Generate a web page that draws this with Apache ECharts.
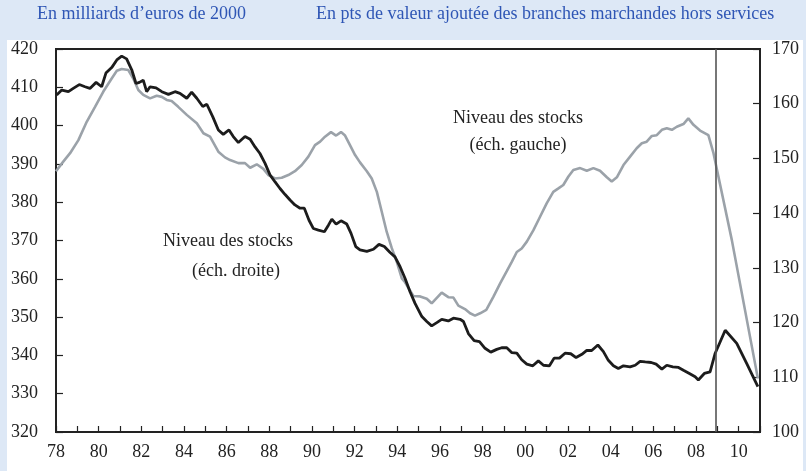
<!DOCTYPE html>
<html>
<head>
<meta charset="utf-8">
<script src="https://cdn.jsdelivr.net/npm/echarts@6/dist/echarts.min.js"></script>
<style>
  body { margin: 0; background: #dde8f6; }
  #panel { position: absolute; left: 7px; top: 40px; width: 796px; height: 431px; background: #fff; }
  #chart { position: absolute; left: 0; top: 0; width: 806px; height: 471px; }
</style>
</head>
<body>
<div id="panel"></div>
<div id="chart"></div>
<script>
// Niveau des stocks, éch. gauche (milliards d'euros de 2000)
var gaucheYears = [1978.00,1978.34,1978.66,1979.05,1979.44,1979.83,1980.22,1980.61,1980.85,1981.08,
  1981.39,1981.62,1981.86,1982.09,1982.41,1982.72,1982.96,1983.19,1983.42,1983.73,
  1984.13,1984.60,1984.91,1985.22,1985.61,1985.92,1986.16,1986.55,1986.86,1987.10,
  1987.41,1987.72,1987.95,1988.27,1988.58,1988.89,1989.20,1989.52,1989.83,1990.14,
  1990.38,1990.61,1990.89,1991.13,1991.36,1991.55,1991.78,1992.02,1992.25,1992.57,
  1992.80,1993.04,1993.27,1993.50,1993.74,1993.97,1994.21,1994.36,1994.75,1995.07,
  1995.38,1995.61,1996.08,1996.39,1996.63,1996.86,1997.17,1997.41,1997.64,1997.88,
  1998.17,1998.50,1998.82,1999.13,1999.37,1999.60,1999.83,2000.07,2000.38,2000.69,
  2001.00,2001.31,2001.55,2001.78,2002.02,2002.25,2002.57,2002.88,2003.19,2003.50,
  2003.82,2004.05,2004.29,2004.60,2004.91,2005.22,2005.46,2005.69,2005.93,2006.16,
  2006.40,2006.63,2006.87,2007.10,2007.41,2007.64,2007.88,2008.19,2008.58,2008.82,
  2009.05,2009.68,2010.90];
var gaucheValues = [388.1,390.6,392.8,396.2,401.0,404.9,408.9,412.3,414.3,414.8,
  414.5,412.3,409.3,408.0,407.1,407.8,407.5,406.7,406.4,404.9,
  402.8,400.6,398.0,397.1,393.2,391.7,391.0,390.2,390.2,389.0,
  389.9,388.7,387.1,386.2,386.4,387.1,388.1,389.7,391.9,394.9,
  395.8,397.1,398.3,397.4,398.3,397.4,394.9,392.3,390.4,388.1,
  386.2,382.7,377.5,372.3,368.0,364.5,360.1,359.1,355.5,355.4,
  354.8,353.6,356.4,355.2,355.1,353.0,352.1,351.0,350.4,351.0,
  351.9,355.3,358.8,362.0,364.5,367.0,367.9,369.7,372.7,376.2,
  379.7,382.7,383.6,384.5,386.7,388.4,388.9,388.2,388.9,388.2,
  386.5,385.4,386.5,389.7,391.9,394.1,395.4,395.8,397.3,397.5,
  398.9,399.3,398.9,399.7,400.4,401.9,400.2,398.7,397.5,392.8,
  386.7,370.1,334.0];

// Niveau des stocks, éch. droite (pts de valeur ajoutée)
var droiteYears = [1978.03,1978.27,1978.58,1978.81,1979.09,1979.36,1979.59,1979.88,1980.14,1980.34,
  1980.61,1980.85,1981.08,1981.31,1981.55,1981.75,1981.91,1982.09,1982.25,1982.41,
  1982.69,1982.96,1983.27,1983.58,1983.81,1984.13,1984.36,1984.60,1984.88,1985.07,
  1985.35,1985.61,1985.84,1986.11,1986.31,1986.55,1986.86,1987.10,1987.33,1987.56,
  1987.80,1988.03,1988.27,1988.50,1988.74,1988.97,1989.20,1989.44,1989.64,1989.86,
  1990.06,1990.30,1990.58,1990.77,1990.93,1991.13,1991.36,1991.63,1991.83,1992.05,
  1992.25,1992.57,1992.88,1993.14,1993.39,1993.66,1993.89,1994.13,1994.36,1994.60,
  1994.83,1995.15,1995.38,1995.61,1995.85,1996.08,1996.39,1996.63,1996.94,1997.10,
  1997.33,1997.60,1997.85,1998.11,1998.38,1998.66,1998.89,1999.13,1999.37,1999.60,
  1999.83,2000.07,2000.35,2000.61,2000.85,2001.13,2001.35,2001.60,2001.86,2002.13,
  2002.38,2002.65,2002.88,2003.11,2003.40,2003.66,2003.89,2004.13,2004.36,2004.60,
  2004.91,2005.15,2005.38,2005.62,2005.90,2006.13,2006.40,2006.63,2006.91,2007.18,
  2007.41,2007.69,2007.96,2008.11,2008.39,2008.66,2008.90,2009.37,2009.91,2010.38,
  2010.90];
var droiteValues = [161.6,162.5,162.2,162.8,163.5,163.1,162.8,163.9,163.1,165.6,
  166.6,168.0,168.7,168.2,166.2,163.7,163.9,164.3,162.2,163.1,
  162.9,162.2,161.7,162.2,161.9,161.0,162.1,161.0,159.5,159.9,
  157.6,155.2,154.4,155.2,154.0,152.9,154.0,153.5,152.1,150.9,
  149.1,147.0,145.7,144.5,143.4,142.4,141.5,140.9,140.9,138.7,
  137.2,136.9,136.6,137.8,138.9,138.0,138.6,138.0,136.3,133.9,
  133.3,133.0,133.4,134.3,133.9,132.8,132.0,130.2,128.1,125.6,
  123.5,121.1,120.2,119.4,120.0,120.6,120.3,120.8,120.6,120.2,
  118.0,116.7,116.5,115.3,114.6,115.1,115.4,115.4,114.5,114.4,
  113.2,112.4,112.1,113.0,112.2,112.1,113.5,113.5,114.4,114.3,
  113.6,114.2,114.9,114.9,115.9,114.7,113.1,112.1,111.6,112.1,
  111.9,112.2,112.9,112.8,112.7,112.4,111.5,112.2,111.9,111.8,
  111.3,110.7,110.1,109.5,110.7,111.0,114.4,118.6,116.2,112.5,
  108.3];

var xLabelYears = [1978,1980,1982,1984,1986,1988,1990,1992,1994,1996,1998,2000,2002,2004,2006,2008,2010];
var xLabels = ['78','80','82','84','86','88','90','92','94','96','98','00','02','04','06','08','10'];
var ruptureYear = 2008.93;

function pairs(xs, ys) {
  return xs.map(function (x, i) { return [x, ys[i]]; });
}

var serif = 'Liberation Serif';
var chart = echarts.init(document.getElementById('chart'));

var option = {
  backgroundColor: 'transparent',
  animation: false,
  grid: {
    left: 56, right: 46, top: 49, bottom: 39,
    show: true, backgroundColor: '#fff', borderColor: '#222', borderWidth: 2
  },
  graphic: [
    { type: 'text', left: 37, top: 5, style: { text: 'En milliards d\u2019euros de 2000', font: '18px "Liberation Serif"', fill: '#2f56b5' } },
    { type: 'text', left: 316, top: 5, style: { text: 'En pts de valeur ajout\u00e9e des branches marchandes hors services', font: '18px "Liberation Serif"', fill: '#2f56b5' } },
    { type: 'text', x: 518, y: 118, style: { text: 'Niveau des stocks', font: '18px "Liberation Serif"', fill: '#222', align: 'center', verticalAlign: 'middle' } },
    { type: 'text', x: 518, y: 145, style: { text: '(\u00e9ch. gauche)', font: '18px "Liberation Serif"', fill: '#222', align: 'center', verticalAlign: 'middle' } },
    { type: 'text', x: 228, y: 241, style: { text: 'Niveau des stocks', font: '18px "Liberation Serif"', fill: '#222', align: 'center', verticalAlign: 'middle' } },
    { type: 'text', x: 236, y: 271, style: { text: '(\u00e9ch. droite)', font: '18px "Liberation Serif"', fill: '#222', align: 'center', verticalAlign: 'middle' } }
  ],
  xAxis: {
    type: 'value', min: 1978, max: 2011, interval: 1,
    axisLine: { lineStyle: { color: '#222', width: 2 } },
    axisTick: { inside: true, length: 6, lineStyle: { color: '#222', width: 1.2 } },
    splitLine: { show: false },
    axisLabel: {
      margin: 11, color: '#222', fontFamily: serif, fontSize: 18,
      formatter: function (v) {
        var i = xLabelYears.indexOf(v);
        return i >= 0 ? xLabels[i] : '';
      }
    }
  },
  yAxis: [
    {
      type: 'value', min: 320, max: 420, interval: 10,
      axisLine: { show: true, lineStyle: { color: '#222', width: 2 } },
      axisTick: { show: true, inside: true, length: 7, lineStyle: { color: '#222', width: 1.2 } },
      splitLine: { show: false },
      axisLabel: { margin: 18, color: '#222', fontFamily: serif, fontSize: 18 }
    },
    {
      type: 'value', min: 100, max: 170, interval: 10, position: 'right',
      axisLine: { show: true, lineStyle: { color: '#222', width: 2 } },
      axisTick: { show: true, inside: true, length: 7, lineStyle: { color: '#222', width: 1.2 } },
      splitLine: { show: false },
      axisLabel: { margin: 12, color: '#222', fontFamily: serif, fontSize: 18 }
    }
  ],
  series: [
    {
      name: 'Niveau des stocks (éch. gauche)',
      type: 'line', yAxisIndex: 0, symbol: 'none',
      lineStyle: { color: '#9ba2a9', width: 2.6 },
      data: pairs(gaucheYears, gaucheValues)
    },
    {
      name: 'Niveau des stocks (éch. droite)',
      type: 'line', yAxisIndex: 1, symbol: 'none',
      lineStyle: { color: '#1c1c1c', width: 2.8 },
      data: pairs(droiteYears, droiteValues),
      markLine: {
        silent: true, symbol: 'none', label: { show: false },
        lineStyle: { color: '#555', width: 1.6, type: 'solid' },
        data: [{ xAxis: ruptureYear }]
      }
    }
  ]
};

chart.setOption(option);
</script>
</body>
</html>
